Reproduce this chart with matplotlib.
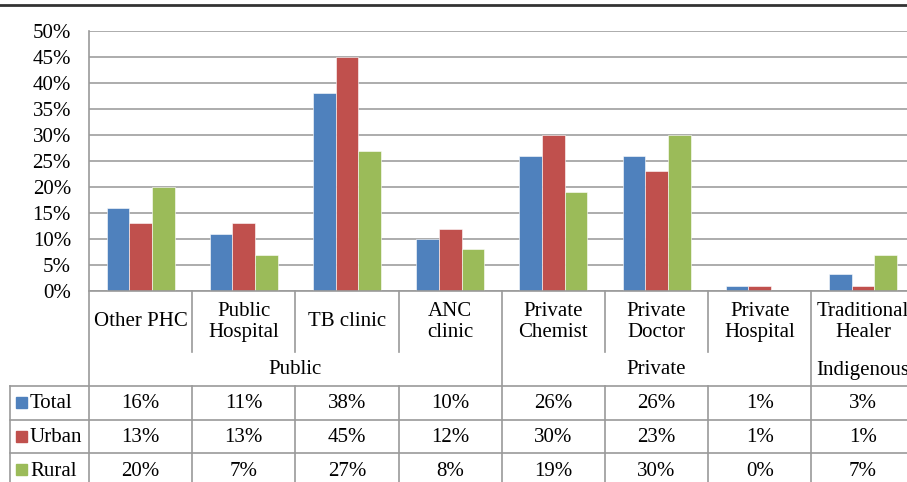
import matplotlib
matplotlib.use('Agg')
import matplotlib.pyplot as plt
import numpy as np

categories = ['Other PHC', 'Public\nHospital', 'TB clinic', 'ANC\nclinic',
              'Private\nChemist', 'Private\nDoctor', 'Private\nHospital', 'Traditional\nHealer']
groups = ['Public', 'Private', 'Indigenous']
group_sizes = [4, 3, 1]
series = ['Total', 'Urban', 'Rural']
total = [16, 11, 38, 10, 26, 26, 1, 3.2]
urban = [13, 13, 45, 12, 30, 23, 1, 1]
rural = [20, 7, 27, 8, 19, 30, 0, 7]
table_text = {
    'Total': ['16%', '11%', '38%', '10%', '26%', '26%', '1%', '3%'],
    'Urban': ['13%', '13%', '45%', '12%', '30%', '23%', '1%', '1%'],
    'Rural': ['20%', '7%', '27%', '8%', '19%', '30%', '0%', '7%'],
}
colors = ['#4F81BD', '#C0504D', '#9BBB59']

plt.rcParams['font.family'] = ['Liberation Serif', 'DejaVu Serif']
fs = 15

W, H = 907, 482
fig = plt.figure(figsize=(W / 100, H / 100), dpi=100)

# layout in pixels
x0, cw = 89, 103.2
y_top, y_zero = 31, 291
n = len(categories)
x_end = x0 + n * cw

ax = fig.add_axes([x0 / W, (H - y_zero) / H, (x_end - x0) / W, (y_zero - y_top) / H])
x = np.arange(n)
bw = 0.22
for i, (vals, c) in enumerate(zip([total, urban, rural], colors)):
    ax.bar(x + (i - 1) * bw, vals, bw, color=c, edgecolor='white', linewidth=0.4, zorder=3)
ax.set_xlim(-0.5, n - 0.5)
ax.set_ylim(0, 50)
ax.set_yticks(range(0, 51, 5))
ax.set_yticklabels([f'{v}%' for v in range(0, 51, 5)], fontsize=fs)
ax.tick_params(axis='y', length=0, pad=13)
ax.set_xticks([])
ax.yaxis.grid(True, color='#a6a6a6', lw=1.3, zorder=0)
for s in ax.spines.values():
    s.set_visible(False)

# overlay in pixel coordinates for the data table
ov = fig.add_axes([0, 0, 1, 1], zorder=5)
ov.set_xlim(0, W)
ov.set_ylim(H, 0)
ov.axis('off')
ov.patch.set_alpha(0)
lc = '#9a9a9a'

ov.plot([0, W], [5, 5], color='#333333', lw=2)
ov.plot([x0, x0], [y_top, H], color=lc, lw=1.2)
ov.plot([x0, W], [y_zero, y_zero], color=lc, lw=1.2)

row_y = [386, 420, 453]
for ry in row_y:
    ov.plot([10, W], [ry, ry], color=lc, lw=1.2)
ov.plot([10, 10], [row_y[0], H], color=lc, lw=1.2)

bounds = np.cumsum(group_sizes)
for k in range(1, n):
    top = y_zero
    bottom = H if k in bounds else 352
    ov.plot([x0 + k * cw] * 2, [top, bottom], color=lc, lw=1.2)
    if k not in bounds:
        ov.plot([x0 + k * cw] * 2, [row_y[0], H], color=lc, lw=1.2)

for i, cat in enumerate(categories):
    ov.text(x0 + (i + 0.5) * cw, 322, cat, ha='center', va='center', fontsize=fs, linespacing=1.12)

start = 0
for g, size in zip(groups, group_sizes):
    cx = x0 + (start + size / 2) * cw
    ov.text(cx, 370, g, ha='center', va='center', fontsize=fs)
    start += size

for r, (name, c) in enumerate(zip(series, colors)):
    cy = row_y[r] + 18
    ov.add_patch(plt.Rectangle((16, cy - 7), 11, 11, color=c))
    ov.text(30, cy, name, ha='left', va='center', fontsize=fs)
    for i, t in enumerate(table_text[name]):
        ov.text(x0 + (i + 0.5) * cw, cy, t, ha='center', va='center', fontsize=fs)

fig.savefig('out.png', dpi=100)
